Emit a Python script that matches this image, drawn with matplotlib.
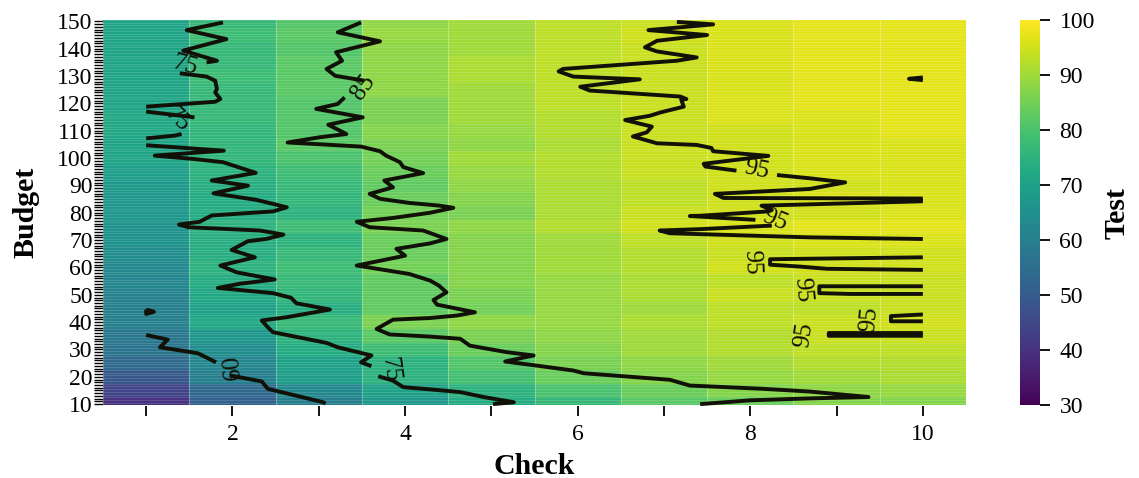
import numpy as np
import matplotlib
matplotlib.use("Agg")
import matplotlib.pyplot as plt

plt.rcParams['font.family'] = ['Liberation Serif', 'DejaVu Serif']

nan = float('nan')

checks = [1, 2, 3, 4, 5, 6, 7, 8, 9, 10]
budget_rows = [10, 15, 20, 25, 30, 35, 40, 45, 50, 55, 60, 65, 70, 75, 80,
               85, 90, 95, 100, 105, 110, 115, 120, 125, 130, 135, 140, 145, 150]
# test value per row (budget), per column (check)
test_values = [
    [40, 51, 60, 67, 73, 77, 82, 84, 87, 87],
    [44, 54, 63, 70, 75, 80, 84, 87, 88, 89],
    [49, 60, 69, 75, 79, 84, 87, 89, 90, 91],
    [54, 62, 70, 75, 81, 86, 88, 90, 92, 92],
    [57, 64, 73, 78, 84, 87, 90, 92, 93, 93],
    [58, 67, 75, 82, 86, 88, 90, 92, 94, 94],
    [60, 72, 77, 86, 88, 89, 91, 93, 94, 95],
    [60, 70, 74, 83, 85, 89, 90, 93, 93, 94],
    [61, 72, 76, 83, 86, 89, 91, 94, 94, 94],
    [62, 73, 77, 83, 87, 89, 91, 93, 94, 94],
    [63, 75, 78, 85, 87, 90, 92, 95, 95, 95],
    [64, 74, 77, 84, 87, 90, 92, 94, 95, 95],
    [66, 74, 75, 84, 87, 90, 93, 95, 96, 96],
    [66, 75, 78, 86, 88, 92, 95, 96, 97, 97],
    [67, 73, 75, 85, 86, 91, 94, 95, 95, 96],
    [67, 73, 76, 84, 87, 91, 93, 95, 96, 96],
    [68, 74, 77, 83, 88, 91, 93, 95, 95, 96],
    [69, 75, 78, 84, 89, 92, 94, 95, 96, 96],
    [71, 76, 80, 85, 90, 92, 94, 95, 96, 96],
    [71, 76, 82, 86, 88, 91, 94, 95, 96, 96],
    [72, 76, 81, 87, 89, 92, 94, 95, 96, 97],
    [72, 77, 81, 86, 90, 92, 94, 96, 96, 97],
    [71, 77, 81, 86, 90, 93, 94, 96, 97, 97],
    [71, 77, 82, 88, 90, 93, 94, 96, 97, 97],
    [71, 78, 82, 88, 91, 93, 94, 96, 97, 97],
    [71, 77, 82, 88, 91, 93, 94, 96, 97, 97],
    [71, 77, 81, 88, 90, 93, 94, 96, 97, 97],
    [71, 78, 82, 89, 90, 93, 95, 96, 97, 97],
    [71, 77, 81, 88, 90, 93, 94, 96, 97, 97],
]

budget_ticks = list(range(10, 151))
budget_labels = list(range(10, 151, 10))
check_labels = [2, 4, 6, 8, 10]
cbar_ticks = [30, 40, 50, 60, 70, 80, 90, 100]

# iso lines, nan where the line is broken
line_60_x = [1.0, 1.25, 1.16, 1.6, 1.81, nan, 1.97, 2.34, 2.41, 3.05, 3.08, nan,
             1.0, 1.09, 1.0, 1.0]
line_60_y = [35.3, 33.6, 30.8, 28.6, 25.3, nan, 20.5, 18.3, 15.6, 10.7, 10.2, nan,
             44.6, 43.8, 43.0, 44.6]

line_75_x = [1.89, 1.47, 1.93, 1.43, 1.82, 1.70, nan, 1.39, 1.70, 1.80, 1.82, 1.80, 1.86, 1.80, 1.0, nan,
             1.0, 1.56, nan, 1.41, 1.33, 1.0, nan, 1.0, 1.90, 1.10, 1.54, 1.89, 2.27, 1.76, 2.18, 1.78,
             2.28, 2.63, 2.47, 1.76, 1.62, 1.38, 1.49, 2.32, 2.59, 2.39, 2.18, 1.99, 2.26, 1.86, 2.05,
             2.49, 2.08, 1.83, 2.47, 2.68, 2.74, 3.13, 2.63, 2.34, 2.41, 2.47, 3.09, 3.22, 3.61, 3.49,
             3.61, nan, 3.69, 3.86, 3.98, 4.29, 4.64, 4.91, 5.26, 5.02]
line_75_y = [149.6, 146.8, 143.5, 139.3, 135.6, 135.0, nan, 131.0, 129.8, 128.3, 125.3, 124.0, 121.6, 120.6, 118.8, nan,
             117.0, 114.9, nan, 108.8, 108.2, 107.2, nan, 104.7, 102.7, 100.9, 99.7, 98.5, 94.6, 91.8, 89.9, 87.1,
             84.7, 82.0, 80.5, 79.0, 76.7, 75.7, 74.7, 73.5, 72.0, 70.4, 69.6, 66.4, 63.7, 60.7, 58.2,
             55.6, 54.0, 52.5, 50.6, 48.9, 46.9, 44.6, 41.8, 40.6, 38.1, 36.3, 32.4, 30.8, 27.8, 25.3,
             23.9, nan, 20.2, 18.6, 16.2, 15.4, 14.4, 12.6, 10.7, 10.0]

line_85_x = [3.49, 3.22, 3.71, 3.2, 3.27, 3.09, 3.19, 3.53, nan, 3.3, 3.22, 2.97, 3.51, 3.11, 3.32, 3.01, 2.64,
             3.49, 3.71, 3.78, 3.94, 3.98, 4.21, 3.76, 3.86, 3.59, 3.71, 4.05, 4.4, 4.56, 4.29, 3.86, 3.44,
             3.59, 4.21, 4.48, 4.29, 3.9, 4.0, 3.44, 4.05, 4.29, 4.39, 4.48, 4.33, 4.37, 4.81, 4.6, 4.29,
             3.86, 3.67, 3.82, 4.29, 4.64, 4.75, 5.18, 5.49, 5.16, 5.45, 5.95, 6.07, 7.07, 7.30, 8.15, 8.69,
             9.37, 8.69, 8.0, 7.42]
line_85_y = [149.6, 146.0, 142.7, 138.7, 135.6, 132.6, 130.1, 128.3, nan, 122.2, 119.8, 118.0, 114.9, 112.2, 108.8, 107.6, 105.7,
             104.2, 102.5, 100.9, 98.5, 96.7, 94.5, 91.8, 89.3, 86.9, 85.1, 83.6, 82.6, 81.8, 80.0, 78.1, 76.7,
             74.7, 73.5, 70.4, 68.8, 66.8, 64.3, 60.7, 57.6, 55.2, 53.4, 50.9, 48.1, 46.4, 43.6, 42.4, 41.5,
             40.9, 37.5, 35.5, 34.7, 33.9, 31.4, 29.0, 27.8, 25.6, 24.4, 22.3, 21.3, 18.9, 16.8, 15.6, 14.6,
             12.6, 12.1, 11.4, 10.0]

line_95_x = [7.15, 7.57, 6.82, 7.5, 6.92, 6.78, 6.92, 7.38, 7.15, 5.83, 5.78, 5.95, 6.72, 6.03, 6.14, 7.19, 7.26, 7.2,
             7.23, 6.96, 6.84, 6.55, 6.86, 6.8, 6.64, 6.92, 7.38, 7.55, 7.57, 8.21, 7.46, 7.48, 7.84, nan,
             8.31, 8.69, 9.10, 8.69, 7.59, 7.69, 10.0, nan, 10.0, 8.13, 8.25, 8.21, 7.42, 7.3, 8.06, nan,
             8.25, 7.42, 6.95, 7.07, 8.69, 10.0, nan,
             10.0, 8.23, 8.23, 8.58, 8.89, 10.0, nan,
             10.0, 8.8, 8.8, 9.16, 10.0, nan,
             10.0, 9.63, 9.63, 10.0, nan,
             10.0, 8.91, 8.91, 10.0, nan,
             10.0, 9.84, 10.0]
line_95_y = [149.8, 148.9, 146.8, 145.0, 142.9, 140.5, 139.0, 136.8, 135.6, 132.6, 131.7, 129.8, 128.8, 126.1, 124.7, 122.5, 121.6, 121.4,
             118.8, 116.7, 115.5, 113.9, 111.5, 109.4, 107.9, 105.4, 104.8, 103.7, 102.5, 100.8, 97.9, 96.9, 95.4, nan,
             93.8, 92.6, 91.1, 88.7, 86.9, 85.4, 85.2, nan, 84.2, 82.6, 81.0, 80.5, 78.9, 78.8, 77.4, nan,
             75.3, 74.0, 73.5, 72.5, 71.0, 70.4, nan,
             63.7, 63.0, 61.0, 60.3, 59.5, 59.1, nan,
             53.1, 53.1, 50.6, 50.3, 50.3, nan,
             42.8, 42.2, 40.3, 40.3, nan,
             36.0, 36.0, 35.0, 35.0, nan,
             129.5, 129.0, 128.5]

iso_lines = [(line_60_x, line_60_y), (line_75_x, line_75_y),
             (line_85_x, line_85_y), (line_95_x, line_95_y)]

# inline labels: text, x, y, rotation
iso_labels = [('60', 2.0, 23.5, 95), ('75', 1.45, 134.0, -15), ('75', 1.36, 114.0, -45),
              ('75', 3.83, 22.5, -82), ('85', 3.52, 125.8, 55),
              ('95', 8.08, 95.6, -12), ('95', 8.29, 77.4, -22), ('95', 8.02, 61.8, -88),
              ('95', 8.6, 51.8, -85), ('95', 8.62, 35.5, 82), ('95', 9.38, 41.0, 85)]

z = np.array(test_values, dtype=float)
rows = np.array([(b - 8) // 5 for b in budget_ticks])
grid = z[rows]

xedges = np.arange(0.5, 11.5, 1)
yedges = np.arange(9.5, 151.5, 1)

fig = plt.figure(figsize=(11.39, 4.78), dpi=100)
ax = fig.add_axes([103/1139, 1-405.5/478, (966-103)/1139, (405.5-20)/478])
mesh = ax.pcolormesh(xedges, yedges, grid, cmap='viridis', vmin=30, vmax=100)
# faint seams between the cells
ax.hlines(yedges, 0.5, 10.5, color='white', lw=0.6, alpha=0.16)
ax.vlines(xedges, 9.5, 150.5, color='white', lw=0.8, alpha=0.3)

for x, y in iso_lines:
    ax.plot(x, y, color='#111108', lw=2.8, solid_joinstyle='round', solid_capstyle='butt')
for t, x, y, r in iso_labels:
    ax.text(x, y, t, fontsize=18, color='#111108', rotation=r, ha='center', va='center')

ax.set_xlim(0.5, 10.5)
ax.set_ylim(9.5, 150.5)
for s in ax.spines.values():
    s.set_visible(False)

ax.set_xticks(checks)
ax.set_xticklabels([str(c) if c in check_labels else '' for c in checks])
ax.set_yticks(budget_ticks)
ax.set_yticklabels([str(b) if b in budget_labels else '' for b in budget_ticks])
ax.tick_params(axis='x', length=7, width=1.3, pad=6, labelsize=17)
ax.tick_params(axis='y', length=6.5, width=1.0, pad=1, labelsize=17)
ax.set_xlabel('Check', fontsize=21.5, fontweight='bold', labelpad=6)
ax.set_ylabel('Budget', fontsize=21.5, fontweight='bold', labelpad=13)

cax = fig.add_axes([1020/1139, 1-405.5/478, 20/1139, (405.5-20)/478])
cb = fig.colorbar(mesh, cax=cax)
cb.set_ticks(cbar_ticks)
cb.outline.set_visible(False)
cb.ax.tick_params(length=7, width=1.3, pad=7, labelsize=17)
cb.set_label('Test', fontsize=21.5, fontweight='bold', labelpad=6)

fig.savefig('out.png', dpi=100)
